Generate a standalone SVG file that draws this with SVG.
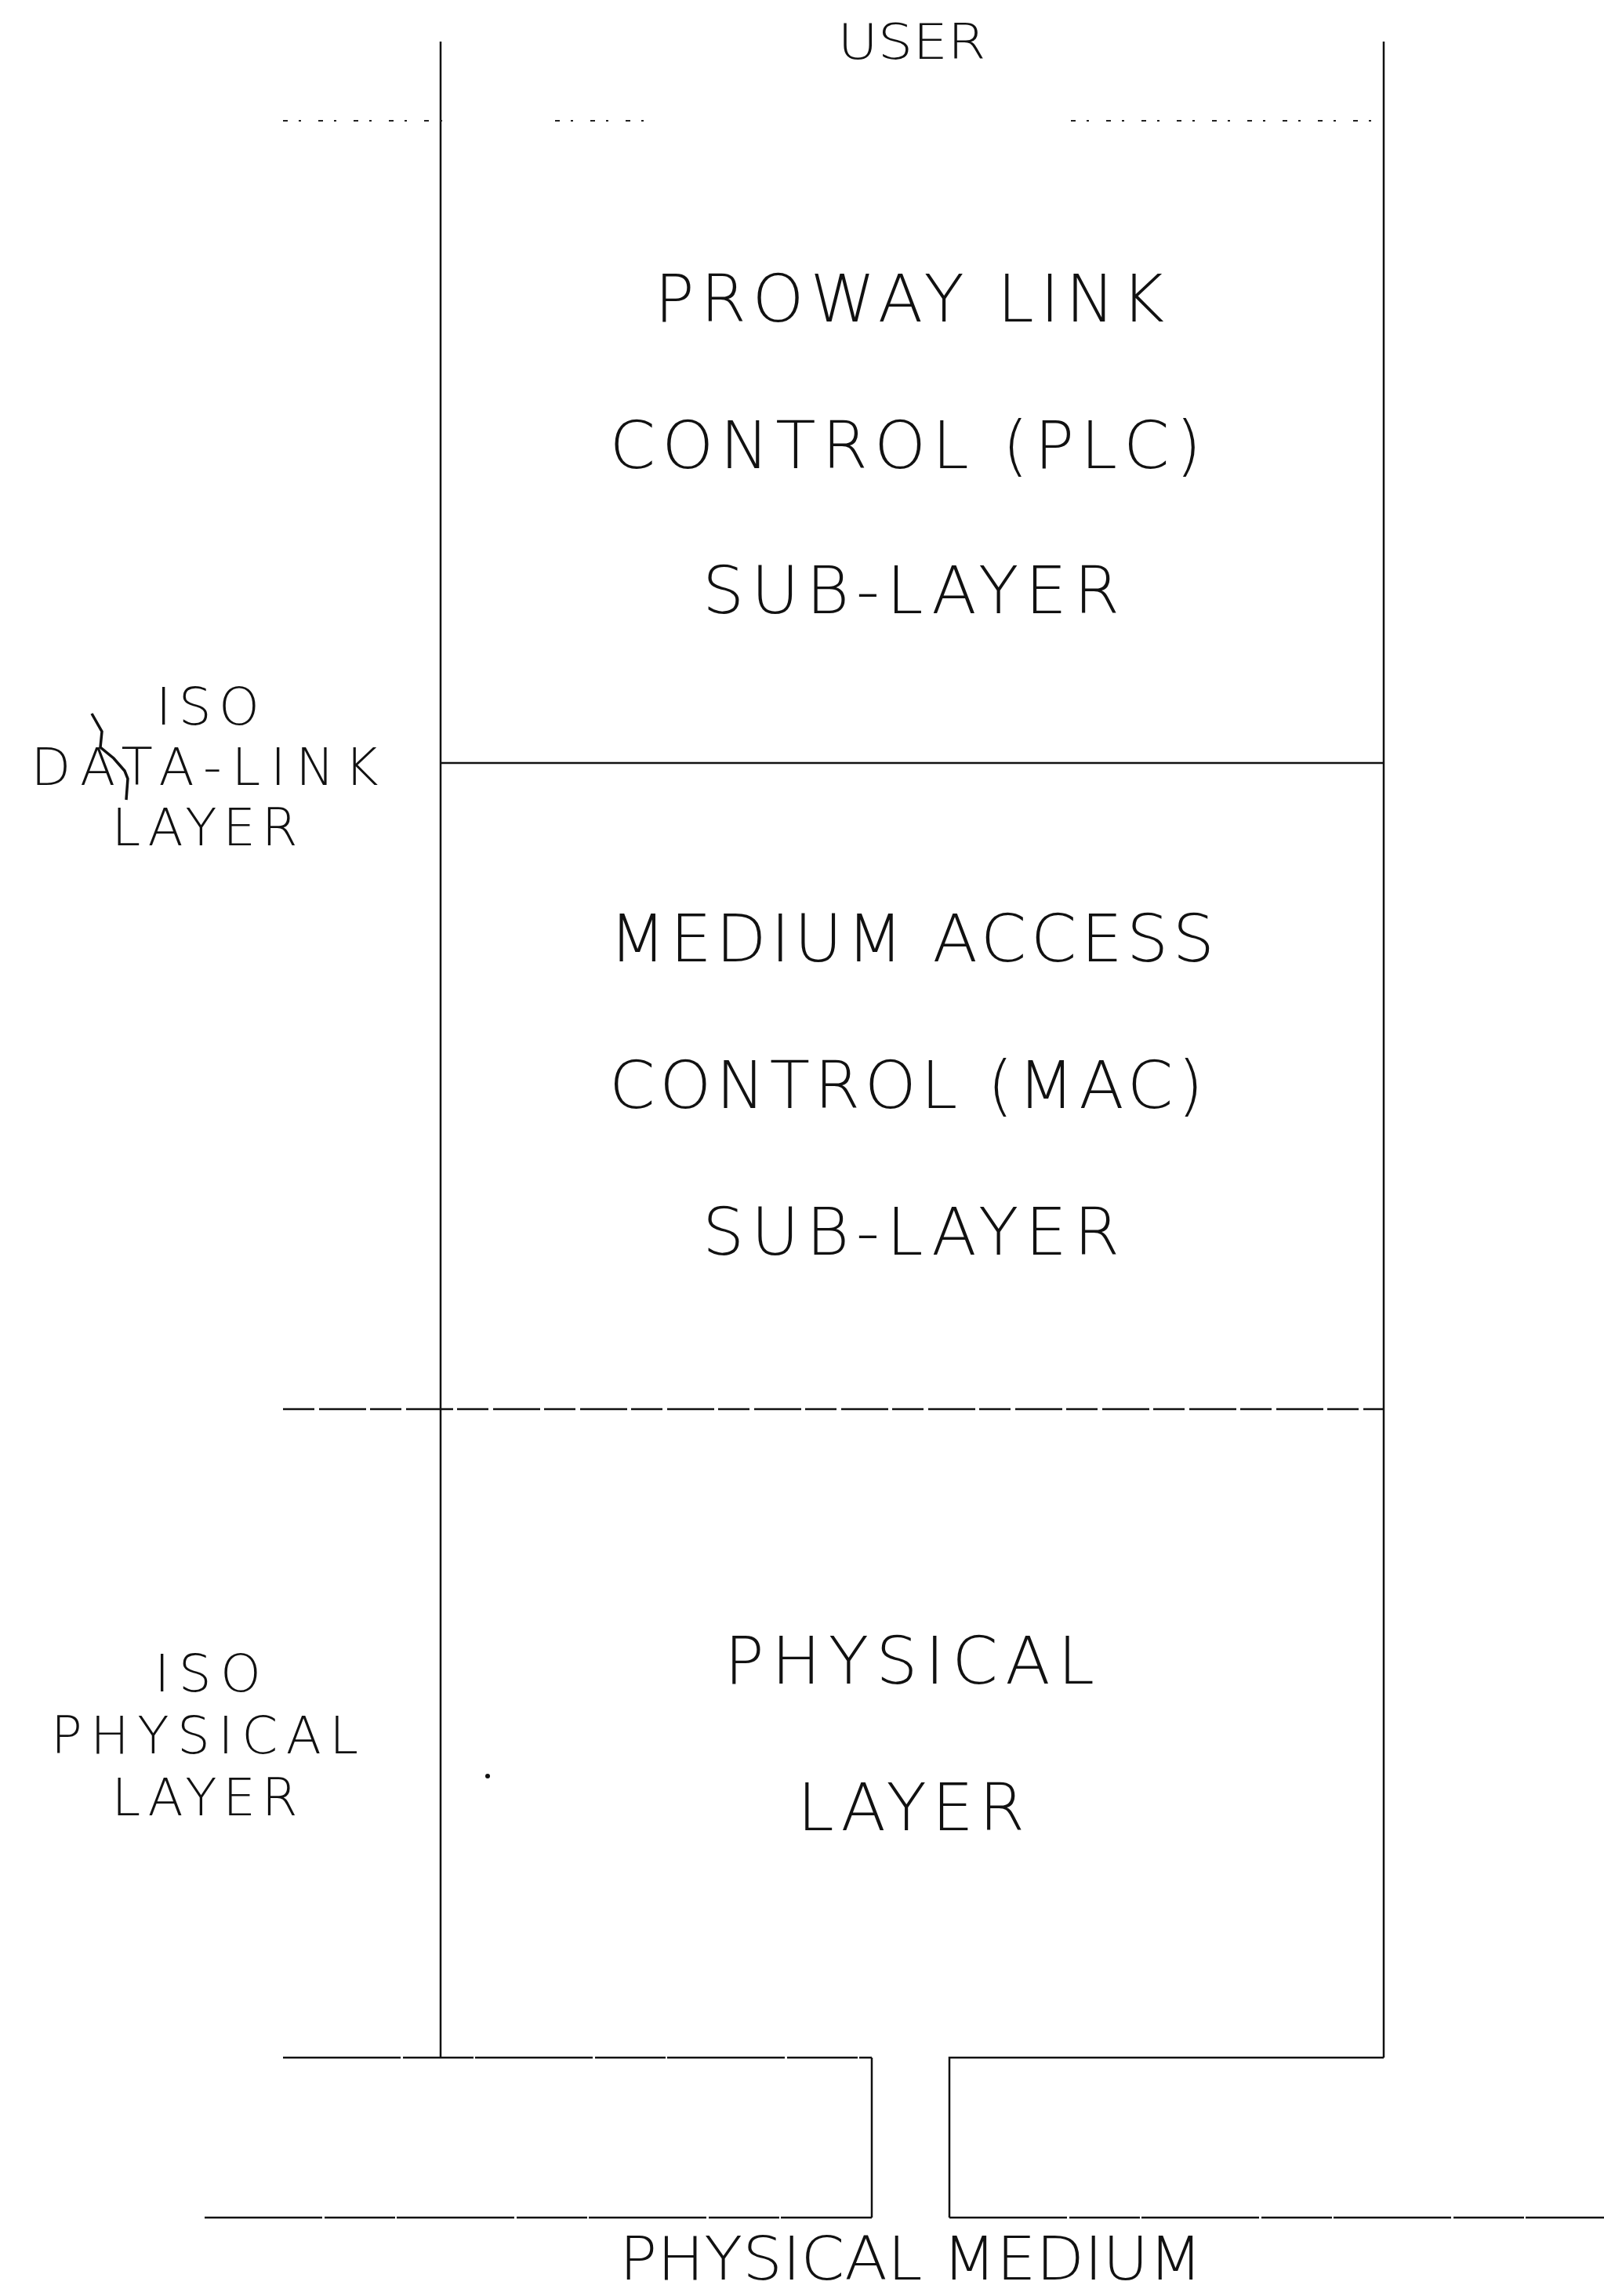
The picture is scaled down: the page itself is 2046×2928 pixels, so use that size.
<svg xmlns="http://www.w3.org/2000/svg" width="2046" height="2928" viewBox="0 0 2046 2928">
<style>
  .t { font-family: "DejaVu Sans", "Liberation Sans", sans-serif; font-weight: 200; fill: #111; text-anchor: middle; }
  .big { font-size: 84px; }
  .side { font-size: 66px; }
  .ln { stroke: #111; stroke-width: 2.5; fill: none; }
  .dash { stroke: #111; stroke-width: 2.5; fill: none; stroke-dasharray: 40 6 60 5; }
  .solidish { stroke: #111; stroke-width: 2.5; fill: none; stroke-dasharray: 150 3 90 2; }
  .dot { stroke: #222; stroke-width: 2; fill: none; stroke-dasharray: 6 14 3 22; }
</style>
<rect width="2046" height="2928" fill="#fff"/>
<g id="connectors">
  <line class="ln" x1="562" y1="53" x2="562" y2="2624"/>
  <line class="ln" x1="1765" y1="53" x2="1765" y2="2624"/>
  <line class="dot" x1="361" y1="154" x2="586" y2="154"/>
  <line class="dot" x1="708" y1="154" x2="841" y2="154"/>
  <line class="dot" x1="1366" y1="154" x2="1766" y2="154"/>
  <line class="ln" x1="562" y1="973" x2="1765" y2="973"/>
  <line class="dash" x1="361" y1="1797" x2="1765" y2="1797"/>
  <line class="solidish" x1="361" y1="2624" x2="1112" y2="2624"/>
  <line class="ln" x1="1112" y1="2624" x2="1112" y2="2828"/>
  <polyline class="ln" points="1211,2828 1211,2624 1765,2624"/>
  <line class="solidish" x1="261" y1="2828" x2="1112" y2="2828"/>
  <line class="solidish" x1="1211" y1="2828" x2="2046" y2="2828"/>
</g>
<g id="user">
  <text class="t" x="1163" y="75" font-size="62" textLength="189" lengthAdjust="spacingAndGlyphs">USER</text>
</g>
<g id="plc-sublayer">
  <text class="t big" x="1160" y="410" textLength="650" lengthAdjust="spacing">PROWAY LINK</text>
  <text class="t big" x="1155" y="597" textLength="755" lengthAdjust="spacing">CONTROL (PLC)</text>
  <text class="t big" x="1162" y="782" textLength="532" lengthAdjust="spacing">SUB-LAYER</text>
</g>
<g id="mac-sublayer">
  <text class="t big" x="1163" y="1226" textLength="772" lengthAdjust="spacing">MEDIUM ACCESS</text>
  <text class="t big" x="1156" y="1413" textLength="758" lengthAdjust="spacing">CONTROL (MAC)</text>
  <text class="t big" x="1162" y="1600" textLength="532" lengthAdjust="spacing">SUB-LAYER</text>
</g>
<g id="physical-layer">
  <text class="t big" x="1160" y="2147" textLength="472" lengthAdjust="spacing">PHYSICAL</text>
  <text class="t big" x="1162" y="2334" textLength="290" lengthAdjust="spacing">LAYER</text>
</g>
<g id="iso-data-link">
  <text class="t side" x="265" y="924" textLength="132" lengthAdjust="spacing">ISO</text>
  <text class="t side" x="261" y="1001" textLength="443" lengthAdjust="spacing">DATA-LINK</text>
  <text class="t side" x="261" y="1078" textLength="237" lengthAdjust="spacing">LAYER</text>
  <polyline points="117,910 130,933 128,953 145,967 159,983 163,993 161,1020" fill="none" stroke="#111" stroke-width="3.5"/>
</g>
<g id="iso-physical">
  <text class="t side" x="265" y="2157" textLength="136" lengthAdjust="spacing">ISO</text>
  <text class="t side" x="261" y="2236" textLength="392" lengthAdjust="spacing">PHYSICAL</text>
  <text class="t side" x="261" y="2315" textLength="237" lengthAdjust="spacing">LAYER</text>
</g>
<g id="physical-medium">
  <text class="t" x="1162" y="2907" font-size="76" textLength="744" lengthAdjust="spacingAndGlyphs">PHYSICAL MEDIUM</text>
</g>
<circle cx="622" cy="2265" r="3" fill="#111"/>
</svg>
